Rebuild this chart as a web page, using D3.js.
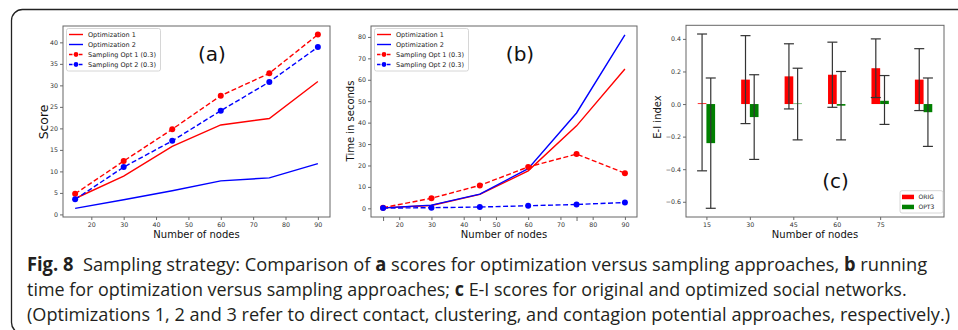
<!DOCTYPE html>
<html>
<head>
<meta charset="utf-8">
<script src="https://cdn.jsdelivr.net/npm/d3@7"></script>
<style>
  body { margin: 0; background: #fff; }
  svg text { font-family: "DejaVu Sans", sans-serif; }
</style>
</head>
<body>
<svg id="fig" width="958" height="330"></svg>
<script>
'use strict';

//DATA=======================================================
let nodes = [15, 30, 45, 60, 75, 90];

// panel (a) scores
let scoreOpt1 = [3.7, 8.9, 15.8, 20.8, 22.3, 30.9];
let scoreOpt2 = [1.4, 3.4, 5.5, 7.8, 8.5, 11.8];
let scoreSamp1 = [4.8, 12.4, 19.8, 27.6, 32.8, 41.8];
let scoreSamp2 = [3.5, 11.0, 17.1, 24.1, 30.8, 38.9];

// panel (b) running time in seconds
let timeOpt1 = [0.2, 1.3, 6.5, 17.5, 38.5, 65.0];
let timeOpt2 = [0.2, 1.5, 6.6, 18.5, 44.5, 81.0];
let timeSamp1 = [0.3, 4.7, 10.7, 19.3, 25.3, 16.4];
let timeSamp2 = [0.1, 0.3, 0.6, 1.2, 1.8, 2.7];

// panel (c) E-I index, bars + error bar ends
let eiLabels = ['15', '30', '45', '60', '75', ''];
let eiOrig = [0.005, 0.15, 0.17, 0.18, 0.22, 0.15];
let eiOrigLow = [-0.41, -0.12, -0.03, -0.02, 0.04, -0.04];
let eiOrigHigh = [0.43, 0.42, 0.37, 0.38, 0.40, 0.34];
let eiOpt3 = [-0.24, -0.08, 0.003, -0.01, 0.02, -0.05];
let eiOpt3Low = [-0.64, -0.34, -0.22, -0.22, -0.125, -0.26];
let eiOpt3High = [0.16, 0.18, 0.22, 0.20, 0.175, 0.16];

let lineLegend = ['Optimization 1', 'Optimization 2', 'Sampling Opt 1 (0.3)', 'Sampling Opt 2 (0.3)'];
let barLegend = ['ORIG', 'OPT3'];
//DATA=======================================================

let svg = d3.select('#fig');

// outer frame of the figure (runs off the right and bottom of the picture)
svg.append('rect')
  .attr('x', 11.5).attr('y', 9.5)
  .attr('width', 980).attr('height', 324)
  .attr('rx', 11)
  .attr('fill', 'none')
  .attr('stroke', '#222')
  .attr('stroke-width', 1.3);

let tickFont = 6.3;
let legendFont = 6.5;

//helper to draw the axes (ticks only, box drawn separately)
function drawAxes(g, x, y, box, xTicks, yTicks, yFormat, xFormat) {
  let xAxis = d3.axisBottom(x).tickValues(xTicks).tickSize(3).tickSizeOuter(0).tickPadding(2.5);
  if (xFormat) xAxis.tickFormat(xFormat);
  let yAxis = d3.axisLeft(y).tickValues(yTicks).tickSize(3).tickSizeOuter(0).tickPadding(2).tickFormat(yFormat);

  let gx = g.append('g').attr('transform', `translate(0, ${box.bottom})`).call(xAxis);
  let gy = g.append('g').attr('transform', `translate(${box.left}, 0)`).call(yAxis);
  [gx, gy].forEach(a => {
    a.select('.domain').remove();
    a.selectAll('line').attr('stroke', '#444').attr('stroke-width', 0.8);
    a.selectAll('text')
      .attr('font-size', tickFont)
      .attr('fill', '#333')
      .style('font-family', '"DejaVu Sans", sans-serif');
  });

  g.append('rect')
    .attr('x', box.left).attr('y', box.top)
    .attr('width', box.right - box.left)
    .attr('height', box.bottom - box.top)
    .attr('fill', 'none')
    .attr('stroke', '#666')
    .attr('stroke-width', 1);
}

//LINE PANELS (a) and (b)====================================
function linePanel(cfg) {
  let box = cfg.box;
  let g = svg.append('g');
  let x = d3.scaleLinear().domain([11.25, 93.75]).range([box.left, box.right]);
  let y = d3.scaleLinear().domain(cfg.yDomain).range([box.bottom, box.top]);

  drawAxes(g, x, y, box, [20, 30, 40, 50, 60, 70, 80, 90], cfg.yTicks, d3.format('d'));

  let line = d3.line().x((d, i) => x(nodes[i])).y(d => y(d));
  let series = [
    { vals: cfg.opt1, color: '#ff0000', dashed: false },
    { vals: cfg.opt2, color: '#0000ff', dashed: false },
    { vals: cfg.samp1, color: '#ff0000', dashed: true },
    { vals: cfg.samp2, color: '#0000ff', dashed: true }
  ];

  series.forEach(s => {
    g.append('path')
      .datum(s.vals)
      .attr('d', line)
      .attr('fill', 'none')
      .attr('stroke', s.color)
      .attr('stroke-width', 1.4)
      .attr('stroke-dasharray', s.dashed ? '5,2.5' : null);
    if (s.dashed) {
      g.selectAll(null).data(s.vals).enter()
        .append('circle')
        .attr('cx', (d, i) => x(nodes[i]))
        .attr('cy', d => y(d))
        .attr('r', 3)
        .attr('fill', s.color);
    }
  });

  // extra tick marks (b only)
  if (cfg.extraTicks) {
    let ex = g.append('g').attr('transform', `translate(0, ${box.bottom})`)
      .call(d3.axisBottom(x).tickValues(cfg.extraTicks).tickSize(4).tickSizeOuter(0).tickFormat(''));
    ex.select('.domain').remove();
    ex.selectAll('line').attr('stroke', '#444').attr('stroke-width', 0.8);
  }

  // legend
  let lg = g.append('g').attr('transform', `translate(${box.left + 3.5}, ${box.top + 2.5})`);
  lg.append('rect')
    .attr('width', 94).attr('height', 42.5)
    .attr('rx', 2)
    .attr('fill', '#fff')
    .attr('fill-opacity', 0.85)
    .attr('stroke', '#ccc')
    .attr('stroke-width', 0.8);
  series.forEach((s, i) => {
    let yy = 6 + i * 10;
    lg.append('line')
      .attr('x1', 2.5).attr('x2', 16.5)
      .attr('y1', yy).attr('y2', yy)
      .attr('stroke', s.color)
      .attr('stroke-width', 1.4)
      .attr('stroke-dasharray', s.dashed ? '3.5,1.5' : null);
    if (s.dashed) {
      lg.append('circle').attr('cx', 9.5).attr('cy', yy).attr('r', 2.4).attr('fill', s.color);
    }
    lg.append('text')
      .attr('x', 21.5).attr('y', yy + 2.3)
      .attr('font-size', legendFont)
      .attr('fill', '#222')
      .text(lineLegend[i]);
  });

  // panel letter
  g.append('text')
    .attr('x', cfg.letterX).attr('y', 61)
    .attr('text-anchor', 'middle')
    .attr('font-size', 20)
    .attr('fill', '#111')
    .text(cfg.letter);

  // axis labels
  g.append('text')
    .attr('x', (box.left + box.right) / 2).attr('y', 238)
    .attr('text-anchor', 'middle')
    .attr('font-size', 10)
    .attr('fill', '#111')
    .text('Number of nodes');
  g.append('text')
    .attr('transform', `translate(${cfg.yLabelX}, ${cfg.yLabelY}) rotate(-90)`)
    .attr('text-anchor', 'middle')
    .attr('font-size', cfg.yLabelSize)
    .attr('fill', '#111')
    .text(cfg.yLabel);
}

linePanel({
  box: { left: 63, right: 330, top: 26, bottom: 217 },
  yDomain: [-0.6, 43.8],
  yTicks: [0, 5, 10, 15, 20, 25, 30, 35, 40],
  opt1: scoreOpt1, opt2: scoreOpt2, samp1: scoreSamp1, samp2: scoreSamp2,
  letter: '(a)', letterX: 212,
  yLabel: 'Score', yLabelX: 48, yLabelY: 122, yLabelSize: 12.4
});

linePanel({
  box: { left: 371, right: 637, top: 26, bottom: 217 },
  yDomain: [-4.05, 85.1],
  yTicks: [0, 10, 20, 30, 40, 50, 60, 70, 80],
  opt1: timeOpt1, opt2: timeOpt2, samp1: timeSamp1, samp2: timeSamp2,
  extraTicks: [15, 45, 75],
  letter: '(b)', letterX: 520,
  yLabel: 'Time in seconds', yLabelX: 354, yLabelY: 121, yLabelSize: 10
});

//BAR PANEL (c)===============================================
(function barPanel() {
  let box = { left: 686, right: 944, top: 25.3, bottom: 217 };
  let g = svg.append('g');
  let x = d3.scaleLinear().domain([-0.47, 5.47]).range([box.left, box.right]);
  let y = d3.scaleLinear().domain([-0.6935, 0.4835]).range([box.bottom, box.top]);
  let bw = 0.2;

  let idx = d3.range(eiOrig.length);

  g.selectAll(null).data(idx).enter().append('rect')
    .attr('x', i => x(i - bw))
    .attr('width', x(bw) - x(0))
    .attr('y', i => y(Math.max(0, eiOrig[i])))
    .attr('height', i => Math.abs(y(eiOrig[i]) - y(0)))
    .attr('fill', '#ff0000');
  g.selectAll(null).data(idx).enter().append('rect')
    .attr('x', i => x(i))
    .attr('width', x(bw) - x(0))
    .attr('y', i => y(Math.max(0, eiOpt3[i])))
    .attr('height', i => Math.abs(y(eiOpt3[i]) - y(0)))
    .attr('fill', '#008000');

  // error bars
  let err = [
    { off: -bw / 2, low: eiOrigLow, high: eiOrigHigh },
    { off: bw / 2, low: eiOpt3Low, high: eiOpt3High }
  ];
  err.forEach(e => {
    idx.forEach(i => {
      let cx = x(i + e.off);
      let eg = g.append('g').attr('stroke', '#333').attr('stroke-width', 1.2);
      eg.append('line').attr('x1', cx).attr('x2', cx).attr('y1', y(e.low[i])).attr('y2', y(e.high[i]));
      [e.low[i], e.high[i]].forEach(v => {
        eg.append('line').attr('x1', cx - 5).attr('x2', cx + 5).attr('y1', y(v)).attr('y2', y(v));
      });
    });
  });

  drawAxes(g, x, y, box, [0, 1, 2, 3, 4], [-0.6, -0.4, -0.2, 0, 0.2, 0.4],
    d => d3.format('.1f')(d).replace('-', '\u2212'), i => eiLabels[i]);

  // legend
  let lg = g.append('g').attr('transform', 'translate(900, 190.7)');
  lg.append('rect')
    .attr('width', 43).attr('height', 22.3)
    .attr('rx', 2)
    .attr('fill', '#fff')
    .attr('stroke', '#ccc')
    .attr('stroke-width', 0.8);
  ['#ff0000', '#008000'].forEach((c, i) => {
    lg.append('rect')
      .attr('x', 2).attr('y', 4 + i * 10)
      .attr('width', 12).attr('height', 4.5)
      .attr('fill', c);
    lg.append('text')
      .attr('x', 18.5).attr('y', 8.6 + i * 10)
      .attr('font-size', legendFont - 0.5)
      .attr('fill', '#222')
      .text(barLegend[i]);
  });

  g.append('text')
    .attr('x', 835.5).attr('y', 188)
    .attr('text-anchor', 'middle')
    .attr('font-size', 20)
    .attr('fill', '#111')
    .text('(c)');

  g.append('text')
    .attr('x', (box.left + box.right) / 2).attr('y', 238)
    .attr('text-anchor', 'middle')
    .attr('font-size', 10)
    .attr('fill', '#111')
    .text('Number of nodes');
  g.append('text')
    .attr('transform', 'translate(660.5, 117) rotate(-90)')
    .attr('text-anchor', 'middle')
    .attr('font-size', 10)
    .attr('fill', '#111')
    .text('E-I index');
})();

//CAPTION=====================================================
let captionLines = [
  [['Fig. 8', true], ['  Sampling strategy: Comparison of ', false], ['a', true],
   [' scores for optimization versus sampling approaches, ', false], ['b', true], [' running', false]],
  [['time for optimization versus sampling approaches; ', false], ['c', true],
   [' E-I scores for original and optimized social networks.', false]],
  [['(Optimizations 1, 2 and 3 refer to direct contact, clustering, and contagion potential approaches, respectively.)', false]]
];
let captionWidths = [901, 880, 924];

// each line is measured and then squeezed sideways to the width in the figure
captionLines.forEach((parts, li) => {
  let t = svg.append('text')
    .attr('x', 0)
    .attr('y', 0)
    .attr('font-size', 19)
    .attr('fill', '#231f20')
    .style('font-family', '"Open Sans", "Noto Sans", sans-serif')
    .style('white-space', 'pre');
  parts.forEach(p => {
    t.append('tspan')
      .attr('font-weight', p[1] ? 700 : 400)
      .text(p[0]);
  });
  let natural = t.node().getComputedTextLength();
  let sx = captionWidths[li] / natural;
  t.attr('transform', `translate(27, ${271 + li * 25}) scale(${sx}, 1)`);
});
</script>
</body>
</html>
